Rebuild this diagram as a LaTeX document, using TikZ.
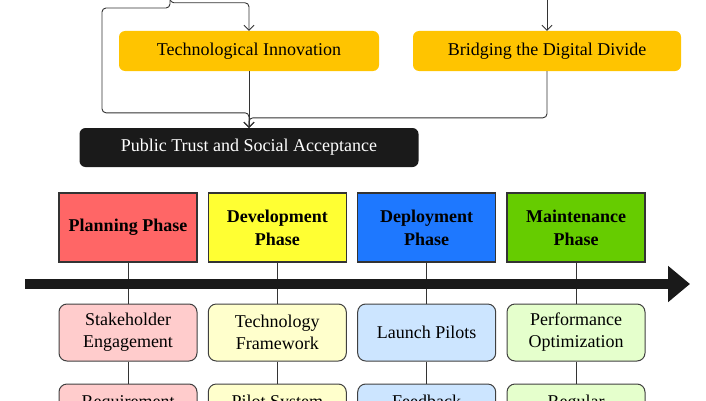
\documentclass[tikz,border=0pt]{standalone}
\usepackage{fontspec}
\setmainfont{Liberation Serif}
\usetikzlibrary{arrows.meta}

\definecolor{gold}{HTML}{FFC400}
\definecolor{nearblack}{HTML}{1A1A1A}
\definecolor{planred}{HTML}{FF6666}
\definecolor{devyellow}{HTML}{FFFF33}
\definecolor{depblue}{HTML}{1E78FF}
\definecolor{maingreen}{HTML}{66CC00}
\definecolor{planpink}{HTML}{FFCCCC}
\definecolor{devcream}{HTML}{FFFFCC}
\definecolor{depsky}{HTML}{CCE5FF}
\definecolor{mainmint}{HTML}{E5FFCC}

\tikzset{
  goalbox/.style={fill=gold,rounded corners=6pt,minimum height=40pt},
  phasebox/.style={draw=black!80,line width=1.2pt,minimum width=138pt,minimum height=69pt,
    align=center,font=\fontsize{18pt}{23pt}\selectfont\bfseries},
  taskbox/.style={draw=black!75,line width=1pt,rounded corners=8pt,minimum width=138pt,
    minimum height=57pt,align=center},
  link/.style={draw=black!80,line width=0.9pt}
}

\begin{document}
\begin{tikzpicture}[x=1pt,y=1pt,>={Straight Barb[length=5pt,width=10pt]},
  font=\fontsize{18pt}{22pt}\selectfont]
\useasboundingbox (0,0) rectangle (706,400);
\clip (0,0) rectangle (706,400);
\def\XA{128};
\def\XB{277.3};
\def\XC{426.7};
\def\XD{576};

% goals
\node[goalbox,minimum width=260pt] (tech) at (249,349) {Technological Innovation};
\node[goalbox,minimum width=268pt] (bridge) at (547,349) {Bridging the Digital Divide};
\node[fill=nearblack,text=white,rounded corners=6pt,minimum width=339pt,minimum height=39pt]
  (trust) at (249,252.5) {Public Trust and Social Acceptance};

\coordinate (src1) at (170,412);
\coordinate (src2) at (547,412);

\draw[link,->,rounded corners=4pt] (src1) |- ([yshift=28pt]tech.north) -- (tech.north);
\draw[link,->,rounded corners=4pt] (src1) |- (102,392) |- ([yshift=15pt]trust.north) -- (trust.north);
\draw[link,->] (src2) -- (bridge.north);
\draw[link,->] (tech) -- (trust);
\draw[link,->,rounded corners=4pt] (bridge.south) |- ([yshift=10pt]trust.north) -- (trust.north);

% phases
\node[phasebox,fill=planred] (plan) at (\XA,172.5) {Planning Phase};
\node[phasebox,fill=devyellow] (dev) at (\XB,172.5) {Development\\Phase};
\node[phasebox,fill=depblue] (dep) at (\XC,172.5) {Deployment\\Phase};
\node[phasebox,fill=maingreen] (main) at (\XD,172.5) {Maintenance\\Phase};

% tasks
\node[taskbox,fill=planpink] (stake) at (\XA,67.5) {Stakeholder\\Engagement};
\node[taskbox,fill=devcream] (frame) at (\XB,67.5) {Technology\\Framework};
\node[taskbox,fill=depsky] (pilots) at (\XC,67.5) {Launch Pilots};
\node[taskbox,fill=mainmint] (optim) at (\XD,67.5) {Performance\\Optimization};

\node[taskbox,fill=planpink] (req) at (\XA,-12.5) {Requirement\\\phantom{A}};
\node[taskbox,fill=devcream] (pilsys) at (\XB,-12.5) {Pilot System\\\phantom{A}};
\node[taskbox,fill=depsky] (feed) at (\XC,-12.5) {Feedback\\\phantom{A}};
\node[taskbox,fill=mainmint] (reg) at (\XD,-12.5) {Regular\\\phantom{A}};

\draw[link] (plan) -- (stake);
\draw[link] (dev) -- (frame);
\draw[link] (dep) -- (pilots);
\draw[link] (main) -- (optim);
\draw[link] (stake) -- (req);
\draw[link] (frame) -- (pilsys);
\draw[link] (pilots) -- (feed);
\draw[link] (optim) -- (reg);

% timeline
\coordinate (tlstart) at (25,116);
\coordinate (tlend) at (690,116);
\draw[nearblack,line width=10pt,-{Triangle[length=22pt,width=35pt]}] (tlstart) -- (tlend);

\end{tikzpicture}
\end{document}
